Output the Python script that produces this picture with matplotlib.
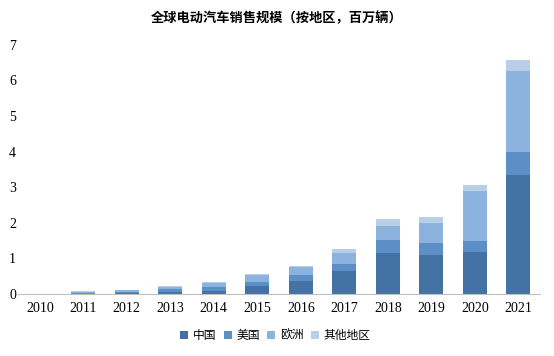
import matplotlib
matplotlib.use("Agg")
import matplotlib.pyplot as plt
import numpy as np

years = ["2010", "2011", "2012", "2013", "2014", "2015", "2016", "2017", "2018", "2019", "2020", "2021"]
china = [0.0, 0.01, 0.02, 0.05, 0.08, 0.22, 0.37, 0.65, 1.16, 1.10, 1.19, 3.34]
usa = [0.0, 0.02, 0.05, 0.08, 0.12, 0.11, 0.17, 0.20, 0.37, 0.34, 0.31, 0.64]
europe = [0.0, 0.03, 0.03, 0.07, 0.10, 0.21, 0.22, 0.31, 0.39, 0.56, 1.40, 2.28]
others = [0.0, 0.02, 0.01, 0.02, 0.04, 0.02, 0.03, 0.11, 0.20, 0.17, 0.17, 0.31]
series_names = ["中国", "美国", "欧洲", "其他地区"]
colors = ["#4472a4", "#5b8fc6", "#8cb3dd", "#b9cfe8"]
title = "全球电动汽车销售规模（按地区，百万辆）"

cjk = ["Noto Sans CJK SC", "DejaVu Sans"]
serif = ["Liberation Serif", "DejaVu Serif"]

fig = plt.figure(figsize=(5.54, 3.56), dpi=100)
ax = fig.add_axes([0.0325, 0.174, 0.9425, 0.7])

x = np.arange(len(years))
bottom = np.zeros(len(years))
for vals, name, c in zip([china, usa, europe, others], series_names, colors):
    ax.bar(x, vals, width=0.55, bottom=bottom, color=c, label=name, edgecolor="none")
    bottom += np.array(vals)

ax.set_xlim(-0.5, 11.5)
ax.set_ylim(0, 7)
ax.set_yticks(range(0, 8))
ax.set_xticks(x)
ax.set_xticklabels(years)
for s in ["top", "right", "left"]:
    ax.spines[s].set_visible(False)
ax.spines["bottom"].set_color("#bfbfbf")
ax.tick_params(axis="both", length=0, labelsize=10)
ax.tick_params(axis="x", pad=6)
ax.tick_params(axis="y", pad=1.5)
for lab in ax.get_xticklabels() + ax.get_yticklabels():
    lab.set_fontfamily(serif)

fig.text(0.5, 0.95, title, ha="center", va="center", fontsize=9.5,
         fontweight="bold", family=cjk)

leg = fig.legend(loc="center", bbox_to_anchor=(0.497, 0.058), ncol=4, frameon=False,
                 prop={"family": cjk, "size": 8.5}, handlelength=0.7, handleheight=0.7,
                 handletextpad=0.4, columnspacing=0.6)

fig.savefig("out.png", dpi=100)
